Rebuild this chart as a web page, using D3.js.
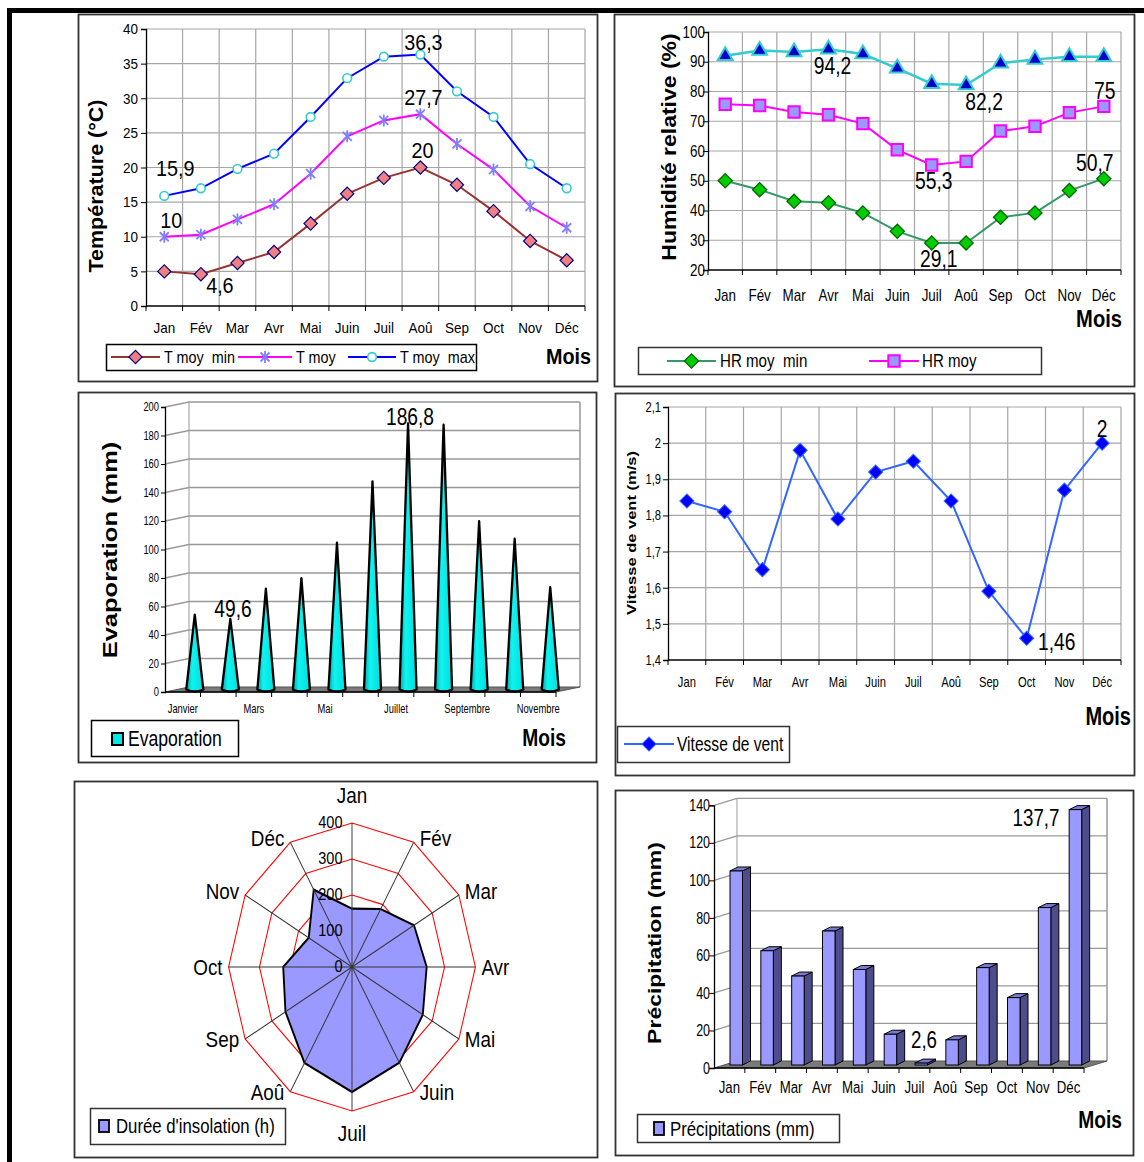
<!DOCTYPE html>
<html>
<head>
<meta charset="utf-8">
<script src="https://cdn.jsdelivr.net/npm/d3@7"></script>
<style>
body { margin: 0; background: #fff; }
svg { display: block; font-family: "Liberation Sans", Arial, sans-serif; }
text { white-space: pre; }
</style>
</head>
<body>
<svg width="1144" height="1162"></svg>
<script>
// ---- data ----
var months = ["Jan", "Fév", "Mar", "Avr", "Mai", "Juin", "Juil", "Aoû", "Sep", "Oct", "Nov", "Déc"];

var tempTicks = [0, 5, 10, 15, 20, 25, 30, 35, 40];
var tMin = [5, 4.6, 6.2, 7.8, 11.9, 16.2, 18.5, 20, 17.5, 13.7, 9.4, 6.6];
var tMoy = [10, 10.3, 12.5, 14.7, 19.1, 24.5, 26.8, 27.7, 23.4, 19.7, 14.4, 11.3];
var tMax = [15.9, 17, 19.8, 22, 27.3, 32.9, 36, 36.3, 31, 27.3, 20.5, 17];

var hrTicks = [20, 30, 40, 50, 60, 70, 80, 90, 100];
var hrMin = [50, 47, 43.1, 42.6, 39.2, 33, 29.1, 29.1, 37.7, 39.2, 46.7, 50.7];
var hrMoy = [75.7, 75.3, 73.1, 72.2, 69.2, 60.4, 55.3, 56.5, 66.7, 68.3, 72.9, 75];
var hrMax = [92, 93.8, 93.3, 94.2, 92.6, 87.8, 82.6, 82.2, 89.5, 90.8, 91.7, 91.7];

var evapMonths = ["Janvier", "Février", "Mars", "Avril", "Mai", "Juin", "Juillet", "Août", "Septembre", "Octobre", "Novembre"];
var evapTicks = [0, 20, 40, 60, 80, 100, 120, 140, 160, 180, 200];
var evap = [52.5, 49.6, 70.7, 78.2, 103, 146.1, 186.8, 185.8, 118.2, 105.8, 71.9];

var windTicks = [1.4, 1.5, 1.6, 1.7, 1.8, 1.9, 2, 2.1];
var wind = [1.84, 1.81, 1.65, 1.98, 1.79, 1.92, 1.95, 1.84, 1.59, 1.46, 1.87, 2];

var radarTicks = [0, 100, 200, 300, 400];
var insolation = [162, 186, 232, 242, 265, 307, 347, 308, 249, 223, 162, 248];

var precipTicks = [0, 20, 40, 60, 80, 100, 120, 140];
var precip = [105, 62.5, 49, 73, 52.5, 18, 2.6, 15, 53.5, 37.5, 85.5, 137.7];

// ---- helpers ----
var svg = d3.select("svg");
svg.append("rect").attr("width", 1144).attr("height", 1162).attr("fill", "#fff");

function txt(g, x, y, s, o) {
  o = o || {};
  var t = g.append("text")
    .attr("transform", "translate(" + x + "," + y + ") scale(" + (o.sx || 1) + ",1)" + (o.rot ? " rotate(-90)" : ""))
    .attr("font-size", o.size || 14)
    .attr("text-anchor", o.anchor || "start")
    .attr("fill", "#000")
    .text(s);
  if (o.bold) t.attr("font-weight", "bold");
  if (o.mid) t.attr("dominant-baseline", "central");
  return t;
}

function frame(x, y, w, h) {
  svg.append("rect").attr("x", x).attr("y", y).attr("width", w).attr("height", h)
    .attr("fill", "none").attr("stroke", "#333").attr("stroke-width", 1.8);
}

// marker shapes
var mk = {
  diamond: d3.symbol(d3.symbolSquare, 88)(),
  bigDiamond: d3.symbol(d3.symbolSquare, 100)(),
  star: "M-4.5,-4.5L4.5,4.5M-4.5,4.5L4.5,-4.5M0,-6V6",
  circle: d3.symbol(d3.symbolCircle, 60)(),
  triangle: d3.symbol(d3.symbolTriangle, 95)(),
  square: d3.symbol(d3.symbolSquare, 130)()
};

function drawMarker(sel, m) {
  sel.attr("d", mk[m.shape])
    .attr("fill", m.fill).attr("stroke", m.stroke).attr("stroke-width", m.sw || 1);
  if (m.rot) sel.attr("transform", function () { return d3.select(this).attr("transform") + " rotate(45)"; });
}

// gridded line panel (charts 1, 2, 4)
function gridPanel(c) {
  var g = svg.append("g");
  var x = d3.scaleBand().domain(months).range([c.left, c.right]);
  var y = d3.scaleLinear().domain([c.ticks[0], c.ticks[c.ticks.length - 1]]).range([c.bottom, c.top]);
  g.selectAll(null).data(c.ticks.slice(1)).join("line")
    .attr("x1", c.left).attr("x2", c.right)
    .attr("y1", function (d) { return y(d); }).attr("y2", function (d) { return y(d); })
    .attr("stroke", "#a6a6a6").attr("stroke-width", 1.2);
  g.selectAll(null).data(months).join("line")
    .attr("x1", function (d) { return x(d) + x.bandwidth(); }).attr("x2", function (d) { return x(d) + x.bandwidth(); })
    .attr("y1", c.top).attr("y2", c.bottom)
    .attr("stroke", "#a6a6a6").attr("stroke-width", 1.2);
  // category tick marks at band edges
  g.selectAll(null).data(months).join("line")
    .attr("x1", function (d) { return x(d); }).attr("x2", function (d) { return x(d); })
    .attr("y1", c.bottom).attr("y2", c.bottom + 5)
    .attr("stroke", "#000");
  g.append("line").attr("x1", c.right).attr("x2", c.right).attr("y1", c.bottom).attr("y2", c.bottom + 5).attr("stroke", "#000");
  g.append("line").attr("x1", c.left).attr("x2", c.right).attr("y1", c.bottom).attr("y2", c.bottom)
    .attr("stroke", "#000").attr("stroke-width", 1.3);

  var ya = g.append("g").attr("transform", "translate(" + c.left + ",0)")
    .call(d3.axisLeft(y).tickValues(c.ticks).tickSize(5).tickFormat(c.fmt || null));
  ya.attr("font-family", null).attr("font-size", c.tickFont);
  ya.select(".domain").attr("stroke", "#000").attr("stroke-width", 1.3);
  ya.selectAll("line").attr("stroke", "#000");
  ya.selectAll("text").attr("x", null).attr("fill", "#000")
    .attr("transform", "translate(" + (-c.tickOff) + ",0) scale(" + c.sx + ",1)");

  var xa = g.append("g").attr("transform", "translate(0," + c.bottom + ")")
    .call(d3.axisBottom(x).tickSize(0));
  xa.attr("font-family", null).attr("font-size", c.monthFont);
  xa.select(".domain").remove();
  xa.selectAll("text").attr("y", c.monthY).attr("dy", null).attr("fill", "#000")
    .attr("transform", "scale(" + c.sx + ",1)");
  return { g: g, x: x, y: y };
}

function series(p, vals, color, width, m) {
  var cx = function (d, i) { return p.x(months[i]) + p.x.bandwidth() / 2; };
  p.g.append("path").datum(vals)
    .attr("d", d3.line().x(cx).y(function (d) { return p.y(d); }))
    .attr("fill", "none").attr("stroke", color).attr("stroke-width", width);
  p.g.selectAll(null).data(vals).join("path")
    .attr("transform", function (d, i) { return "translate(" + cx(d, i) + "," + p.y(d) + ")"; })
    .call(drawMarker, m);
}

function legendLine(g, x1, x2, y, color, width, m) {
  g.append("line").attr("x1", x1).attr("x2", x2).attr("y1", y).attr("y2", y)
    .attr("stroke", color).attr("stroke-width", width);
  g.append("path").attr("transform", "translate(" + (x1 + x2) / 2 + "," + y + ")").call(drawMarker, m);
}

// ---- outer frame ----
svg.append("path").attr("d", "M9.5,1162V10.5H1144").attr("fill", "none")
  .attr("stroke", "#000").attr("stroke-width", 5);

// ---- panel frames ----
frame(78.5, 14.5, 519, 367);
frame(614.5, 14.5, 520, 372);
frame(78.5, 392.5, 518, 370);
frame(615.5, 393.5, 519, 382);
frame(74.5, 781.5, 523, 376);
frame(615.5, 790.5, 518, 365);

// ================= Chart 1 : temperatures =================
var mMin = { shape: "diamond", fill: "#f08080", stroke: "#000080", sw: 1.2, rot: true };
var mMoy = { shape: "star", fill: "none", stroke: "#8080ff", sw: 1.8 };
var mMax = { shape: "circle", fill: "#fff", stroke: "#33cccc", sw: 1.6 };

var p1 = gridPanel({ left: 146, right: 585, top: 29, bottom: 306, ticks: tempTicks,
  tickFont: 15, tickOff: 8, monthFont: 15, monthY: 27, sx: 0.9 });
series(p1, tMin, "#993333", 2, mMin);
series(p1, tMoy, "#ff00ff", 2, mMoy);
series(p1, tMax, "#0000ff", 2, mMax);

var c1 = p1.g;
// [series, month index, text, dx, dy]
[[tMax, 7, "36,3", 3, -5], [tMoy, 7, "27,7", 3, -9.5], [tMin, 7, "20", 2, -9.5],
 [tMax, 0, "15,9", 11, -20], [tMoy, 0, "10", 7, -9], [tMin, 1, "4,6", 19, 19]].forEach(function (l) {
  txt(c1, p1.x(months[l[1]]) + p1.x.bandwidth() / 2 + l[3], p1.y(l[0][l[1]]) + l[4], l[2],
    { size: 22, sx: 0.9, anchor: "middle" });
});
txt(c1, 96, 186, "Température (°C)", { size: 21.5, bold: true, rot: true, anchor: "middle", mid: true, sx: 0.9 });
txt(c1, 591, 364, "Mois", { size: 22, bold: true, anchor: "end", sx: 0.9 });
c1.append("rect").attr("x", 106.5).attr("y", 344.5).attr("width", 370).attr("height", 26)
  .attr("fill", "#fff").attr("stroke", "#000").attr("stroke-width", 1.5);
legendLine(c1, 111, 160, 357, "#993333", 2, mMin);
txt(c1, 164, 363, "T moy  min", { size: 16, sx: 0.9 });
legendLine(c1, 238, 292, 357, "#ff00ff", 2, mMoy);
txt(c1, 296, 363, "T moy", { size: 16, sx: 0.9 });
legendLine(c1, 348, 396, 357, "#0000ff", 2, mMax);
txt(c1, 400, 363, "T moy  max", { size: 16, sx: 0.9 });

// ================= Chart 2 : humidity =================
var hMin = { shape: "bigDiamond", fill: "#00cc00", stroke: "#006600", sw: 1.3, rot: true };
var hMoy = { shape: "square", fill: "#9999ff", stroke: "#ff00ff", sw: 2 };
var hMax = { shape: "triangle", fill: "#0000cc", stroke: "#33cccc", sw: 2 };

var p2 = gridPanel({ left: 708, right: 1121, top: 32, bottom: 270, ticks: hrTicks,
  tickFont: 16, tickOff: 3, monthFont: 16, monthY: 31, sx: 0.84 });
series(p2, hrMax, "#33cccc", 2.5, hMax);
series(p2, hrMoy, "#ff00ff", 2, hMoy);
series(p2, hrMin, "#339966", 2, hMin);

var c2 = p2.g;
var hx = function (i) { return p2.x(months[i]) + p2.x.bandwidth() / 2; };
txt(c2, hx(3) + 4, 74, "94,2", { size: 23, sx: 0.84, anchor: "middle" });
txt(c2, hx(7) + 18, 110, "82,2", { size: 23, sx: 0.84, anchor: "middle" });
txt(c2, hx(11) + 1, 99, "75", { size: 23, sx: 0.84, anchor: "middle" });
txt(c2, hx(6) + 2, 189, "55,3", { size: 23, sx: 0.84, anchor: "middle" });
txt(c2, hx(6) + 7, 267, "29,1", { size: 23, sx: 0.84, anchor: "middle" });
txt(c2, hx(11) - 9, 171, "50,7", { size: 23, sx: 0.84, anchor: "middle" });
txt(c2, 669.5, 147, "Humidité relative (%)", { size: 23, bold: true, rot: true, anchor: "middle", mid: true, sx: 0.84 });
txt(c2, 1122, 327, "Mois", { size: 24, bold: true, anchor: "end", sx: 0.84 });
c2.append("rect").attr("x", 638.5).attr("y", 347.5).attr("width", 403).attr("height", 27)
  .attr("fill", "#fff").attr("stroke", "#333").attr("stroke-width", 1.5);
legendLine(c2, 667, 716, 361, "#339966", 2, hMin);
txt(c2, 720, 367, "HR moy  min", { size: 18, sx: 0.84 });
legendLine(c2, 869, 919, 361, "#ff00ff", 2, hMoy);
txt(c2, 922, 367, "HR moy", { size: 18, sx: 0.84 });

// ================= Chart 3 : evaporation (3D cones) =================
var c3 = svg.append("g");
var xe = d3.scaleBand().domain(evapMonths).range([165, 556]);
var ye = d3.scaleLinear().domain([0, 200]).range([692, 407]);
var eDx = 24, eDy = -5;

var cg = svg.append("defs").append("linearGradient").attr("id", "coneGrad");
cg.append("stop").attr("offset", "0%").attr("stop-color", "#00a8a8");
cg.append("stop").attr("offset", "35%").attr("stop-color", "#10f4f0");
cg.append("stop").attr("offset", "100%").attr("stop-color", "#00dede");

c3.append("line").attr("x1", 165 + eDx).attr("x2", 165 + eDx).attr("y1", ye(200) + eDy).attr("y2", ye(0) + eDy)
  .attr("stroke", "#999");
c3.append("line").attr("x1", 556 + eDx).attr("x2", 556 + eDx).attr("y1", ye(200) + eDy).attr("y2", ye(0) + eDy)
  .attr("stroke", "#999").attr("stroke-width", 1.5);
c3.selectAll(null).data(evapTicks.slice(1)).join("path")
  .attr("d", function (d) {
    return "M165," + ye(d) + "L" + (165 + eDx) + "," + (ye(d) + eDy) + "L" + (556 + eDx) + "," + (ye(d) + eDy);
  })
  .attr("fill", "none").attr("stroke", "#999").attr("stroke-width", 1.3);
c3.append("path")
  .attr("d", "M165," + ye(0) + "L556," + ye(0) + "L" + (556 + eDx) + "," + (ye(0) + eDy) + "L" + (165 + eDx) + "," + (ye(0) + eDy) + "Z")
  .attr("fill", "#7a7a7a").attr("stroke", "#555");

var ea = c3.append("g").attr("transform", "translate(165,0)")
  .call(d3.axisLeft(ye).tickValues(evapTicks).tickSize(4));
ea.attr("font-family", null).attr("font-size", 12);
ea.select(".domain").attr("stroke", "#000").attr("stroke-width", 1.3);
ea.selectAll("line").attr("stroke", "#000");
ea.selectAll("text").attr("x", null).attr("fill", "#000").attr("transform", "translate(-6,0) scale(0.78,1)");

c3.append("line").attr("x1", 165).attr("x2", 556).attr("y1", ye(0)).attr("y2", ye(0)).attr("stroke", "#000").attr("stroke-width", 1.3);
c3.selectAll(null).data(evapMonths).join("line")
  .attr("x1", function (d) { return xe(d) + xe.bandwidth(); }).attr("x2", function (d) { return xe(d) + xe.bandwidth(); })
  .attr("y1", ye(0)).attr("y2", ye(0) + 5).attr("stroke", "#000");
var exa = c3.append("g").attr("transform", "translate(0," + ye(0) + ")")
  .call(d3.axisBottom(xe).tickSize(0).tickFormat(function (d, i) { return i % 2 === 0 ? d : ""; }));
exa.attr("font-family", null).attr("font-size", 12);
exa.select(".domain").remove();
exa.selectAll("text").attr("y", 21).attr("dy", null).attr("fill", "#000").attr("transform", "scale(0.78,1)");

c3.selectAll(null).data(evap).join("path")
  .attr("d", function (d, i) {
    var cx = xe(evapMonths[i]) + xe.bandwidth() / 2 + eDx / 2;
    var by = ye(0) + eDy / 2, ay = ye(d) + eDy / 2;
    return "M" + (cx - 8.5) + "," + by + "L" + cx + "," + ay + "L" + (cx + 8.5) + "," + by +
      "Q" + cx + "," + (by + 4) + " " + (cx - 8.5) + "," + by + "Z";
  })
  .attr("fill", "url(#coneGrad)").attr("stroke", "#000").attr("stroke-width", 2.3).attr("stroke-linejoin", "round");

txt(c3, 233, 617, "49,6", { size: 24, sx: 0.8, anchor: "middle" });
txt(c3, 410, 425, "186,8", { size: 24, sx: 0.8, anchor: "middle" });
txt(c3, 109.5, 550, "Evaporation (mm)", { size: 25.5, bold: true, rot: true, anchor: "middle", mid: true, sx: 0.8 });
txt(c3, 566, 746, "Mois", { size: 24, bold: true, anchor: "end", sx: 0.8 });
c3.append("rect").attr("x", 91.5).attr("y", 720.5).attr("width", 147).attr("height", 36)
  .attr("fill", "#fff").attr("stroke", "#000").attr("stroke-width", 1.5);
c3.append("rect").attr("x", 112).attr("y", 733).attr("width", 11).attr("height", 12)
  .attr("fill", "#00e8e8").attr("stroke", "#000").attr("stroke-width", 2);
txt(c3, 128, 746, "Evaporation", { size: 22, sx: 0.8 });

// ================= Chart 4 : wind =================
var wM = { shape: "bigDiamond", fill: "#0000ff", stroke: "#3366ff", sw: 1, rot: true };
var p4 = gridPanel({ left: 668, right: 1121, top: 407, bottom: 660, ticks: windTicks,
  tickFont: 14, tickOff: 7, monthFont: 14, monthY: 27, sx: 0.8,
  fmt: function (d) { return String(d).replace(".", ","); } });
series(p4, wind, "#3366ff", 2, wM);
var c4 = p4.g;
txt(c4, 1102, 437, "2", { size: 24, sx: 0.8, anchor: "middle" });
txt(c4, 1038, 650, "1,46", { size: 24, sx: 0.8 });
txt(c4, 631, 533, "Vitesse de vent (m/s)", { size: 16.5, bold: true, rot: true, anchor: "middle", mid: true, sx: 0.8 });
txt(c4, 1131, 725, "Mois", { size: 25, bold: true, anchor: "end", sx: 0.8 });
c4.append("rect").attr("x", 617.5).attr("y", 726.5).attr("width", 172).attr("height", 36)
  .attr("fill", "#fff").attr("stroke", "#333").attr("stroke-width", 1.5);
legendLine(c4, 624, 674, 744, "#3366ff", 2, wM);
txt(c4, 677, 751, "Vitesse de vent", { size: 19.5, sx: 0.8 });

// ================= Chart 5 : radar (insolation) =================
var c5 = svg.append("g").attr("transform", "translate(352,967) scale(0.857,1)");
var rr = d3.scaleLinear().domain([0, 400]).range([0, 144]);
var ang = d3.scaleLinear().domain([0, 12]).range([0, 2 * Math.PI]);
var pt = function (v, i) { return [rr(v) * Math.sin(ang(i)), -rr(v) * Math.cos(ang(i))]; };

c5.selectAll(null).data(radarTicks.slice(1)).join("path")
  .attr("d", function (t) { return d3.line()(months.map(function (m, i) { return pt(t, i); })) + "Z"; })
  .attr("fill", "none").attr("stroke", "#ff0000").attr("stroke-width", 1.2);
c5.append("path")
  .attr("d", d3.line()(insolation.map(function (v, i) { return pt(v, i); })) + "Z")
  .attr("fill", "#9999ff").attr("stroke", "#000").attr("stroke-width", 2.2).attr("stroke-linejoin", "miter");
c5.selectAll(null).data(months).join("line")
  .attr("x1", 0).attr("y1", 0)
  .attr("x2", function (m, i) { return pt(400, i)[0]; })
  .attr("y2", function (m, i) { return pt(400, i)[1]; })
  .attr("stroke", "#333").attr("stroke-width", 1.1);
c5.selectAll(null).data(radarTicks).join("text")
  .attr("x", -11).attr("y", function (d) { return -rr(d) + 5; })
  .attr("text-anchor", "end").attr("font-size", 17).attr("fill", "#000")
  .text(function (d) { return d; });
months.forEach(function (m, i) {
  var p = pt(400, i), s = Math.sin(ang(i));
  var anchor = Math.abs(s) < 0.01 ? "middle" : (s > 0 ? "start" : "end");
  var x = p[0] + (anchor === "start" ? 7 : (anchor === "end" ? -7 : 0));
  var y = p[1] + (i === 0 ? -28 : (i === 6 ? 22 : (Math.cos(ang(i)) > 0.01 ? -4 : 0)));
  c5.append("text").attr("x", x).attr("y", y).attr("text-anchor", anchor)
    .attr("dominant-baseline", "central").attr("font-size", 22).attr("fill", "#000").text(m);
});
var c5l = svg.append("g");
c5l.append("rect").attr("x", 90.5).attr("y", 1108.5).attr("width", 195).attr("height", 36)
  .attr("fill", "#fff").attr("stroke", "#333").attr("stroke-width", 1.5);
c5l.append("rect").attr("x", 99).attr("y", 1120).attr("width", 10).attr("height", 12)
  .attr("fill", "#9999ff").attr("stroke", "#000").attr("stroke-width", 1.8);
txt(c5l, 116, 1133, "Durée d'insolation (h)", { size: 19.5, sx: 0.86 });

// ================= Chart 6 : precipitation (3D bars) =================
var c6 = svg.append("g");
var xp = d3.scaleBand().domain(months).range([714, 1084]);
var yp = d3.scaleLinear().domain([0, 140]).range([1068, 805.3]);
var pDx = 23, pDy = -7;

c6.append("line").attr("x1", 714 + pDx).attr("x2", 714 + pDx).attr("y1", yp(140) + pDy).attr("y2", yp(0) + pDy).attr("stroke", "#999");
c6.append("line").attr("x1", 1084 + pDx).attr("x2", 1084 + pDx).attr("y1", yp(140) + pDy).attr("y2", yp(0) + pDy)
  .attr("stroke", "#999").attr("stroke-width", 1.5);
c6.selectAll(null).data(precipTicks.slice(1)).join("path")
  .attr("d", function (d) {
    return "M714," + yp(d) + "L" + (714 + pDx) + "," + (yp(d) + pDy) + "L" + (1084 + pDx) + "," + (yp(d) + pDy);
  })
  .attr("fill", "none").attr("stroke", "#999").attr("stroke-width", 1.3);
c6.append("path")
  .attr("d", "M714," + yp(0) + "L1084," + yp(0) + "L" + (1084 + pDx) + "," + (yp(0) + pDy) + "L" + (714 + pDx) + "," + (yp(0) + pDy) + "Z")
  .attr("fill", "#7a7a7a").attr("stroke", "#555");

var pa = c6.append("g").attr("transform", "translate(714,0)")
  .call(d3.axisLeft(yp).tickValues(precipTicks).tickSize(5));
pa.attr("font-family", null).attr("font-size", 16);
pa.select(".domain").attr("stroke", "#000").attr("stroke-width", 1.3);
pa.selectAll("line").attr("stroke", "#000");
pa.selectAll("text").attr("x", null).attr("fill", "#000").attr("transform", "translate(-4,0) scale(0.78,1)");

c6.append("line").attr("x1", 714).attr("x2", 1084).attr("y1", yp(0)).attr("y2", yp(0)).attr("stroke", "#000").attr("stroke-width", 1.3);
c6.selectAll(null).data(months).join("line")
  .attr("x1", function (d) { return xp(d) + xp.bandwidth(); }).attr("x2", function (d) { return xp(d) + xp.bandwidth(); })
  .attr("y1", yp(0)).attr("y2", yp(0) + 5).attr("stroke", "#000");
var pxa = c6.append("g").attr("transform", "translate(0," + yp(0) + ")")
  .call(d3.axisBottom(xp).tickSize(0));
pxa.attr("font-family", null).attr("font-size", 17);
pxa.select(".domain").remove();
pxa.selectAll("text").attr("y", 25).attr("dy", null).attr("fill", "#000").attr("transform", "scale(0.78,1)");

var bw = 12.5, bdx = 8, bdy = -4;
var bars = c6.selectAll(null).data(precip).join("g")
  .attr("transform", function (d, i) { return "translate(" + (xp(months[i]) + 16) + ",0)"; });
bars.append("path")
  .attr("d", function (d) {
    var t = yp(d), b = yp(0) - 3;
    return "M" + bw + "," + t + "L" + (bw + bdx) + "," + (t + bdy) + "L" + (bw + bdx) + "," + (b + bdy) + "L" + bw + "," + b + "Z";
  })
  .attr("fill", "#4d4d8c").attr("stroke", "#000").attr("stroke-width", 1);
bars.append("path")
  .attr("d", function (d) {
    var t = yp(d);
    return "M0," + t + "L" + bdx + "," + (t + bdy) + "L" + (bw + bdx) + "," + (t + bdy) + "L" + bw + "," + t + "Z";
  })
  .attr("fill", "#7a7ad6").attr("stroke", "#000").attr("stroke-width", 1);
bars.append("rect")
  .attr("x", 0).attr("y", function (d) { return yp(d); })
  .attr("width", bw).attr("height", function (d) { return yp(0) - 3 - yp(d); })
  .attr("fill", "#9999ff").attr("stroke", "#000").attr("stroke-width", 1);

txt(c6, 1036, 826, "137,7", { size: 24, sx: 0.78, anchor: "middle" });
txt(c6, 924, 1048, "2,6", { size: 24, sx: 0.78, anchor: "middle" });
txt(c6, 654, 943, "Précipitation (mm)", { size: 23, bold: true, rot: true, anchor: "middle", mid: true, sx: 0.8 });
txt(c6, 1122, 1128, "Mois", { size: 24, bold: true, anchor: "end", sx: 0.8 });
c6.append("rect").attr("x", 637.5).attr("y", 1114.5).attr("width", 202).attr("height", 28)
  .attr("fill", "#fff").attr("stroke", "#333").attr("stroke-width", 1.5);
c6.append("rect").attr("x", 654).attr("y", 1122).attr("width", 10).attr("height", 13)
  .attr("fill", "#9999ff").attr("stroke", "#000").attr("stroke-width", 1.8);
txt(c6, 670, 1136, "Précipitations (mm)", { size: 21, sx: 0.8 });
</script>
</body>
</html>
